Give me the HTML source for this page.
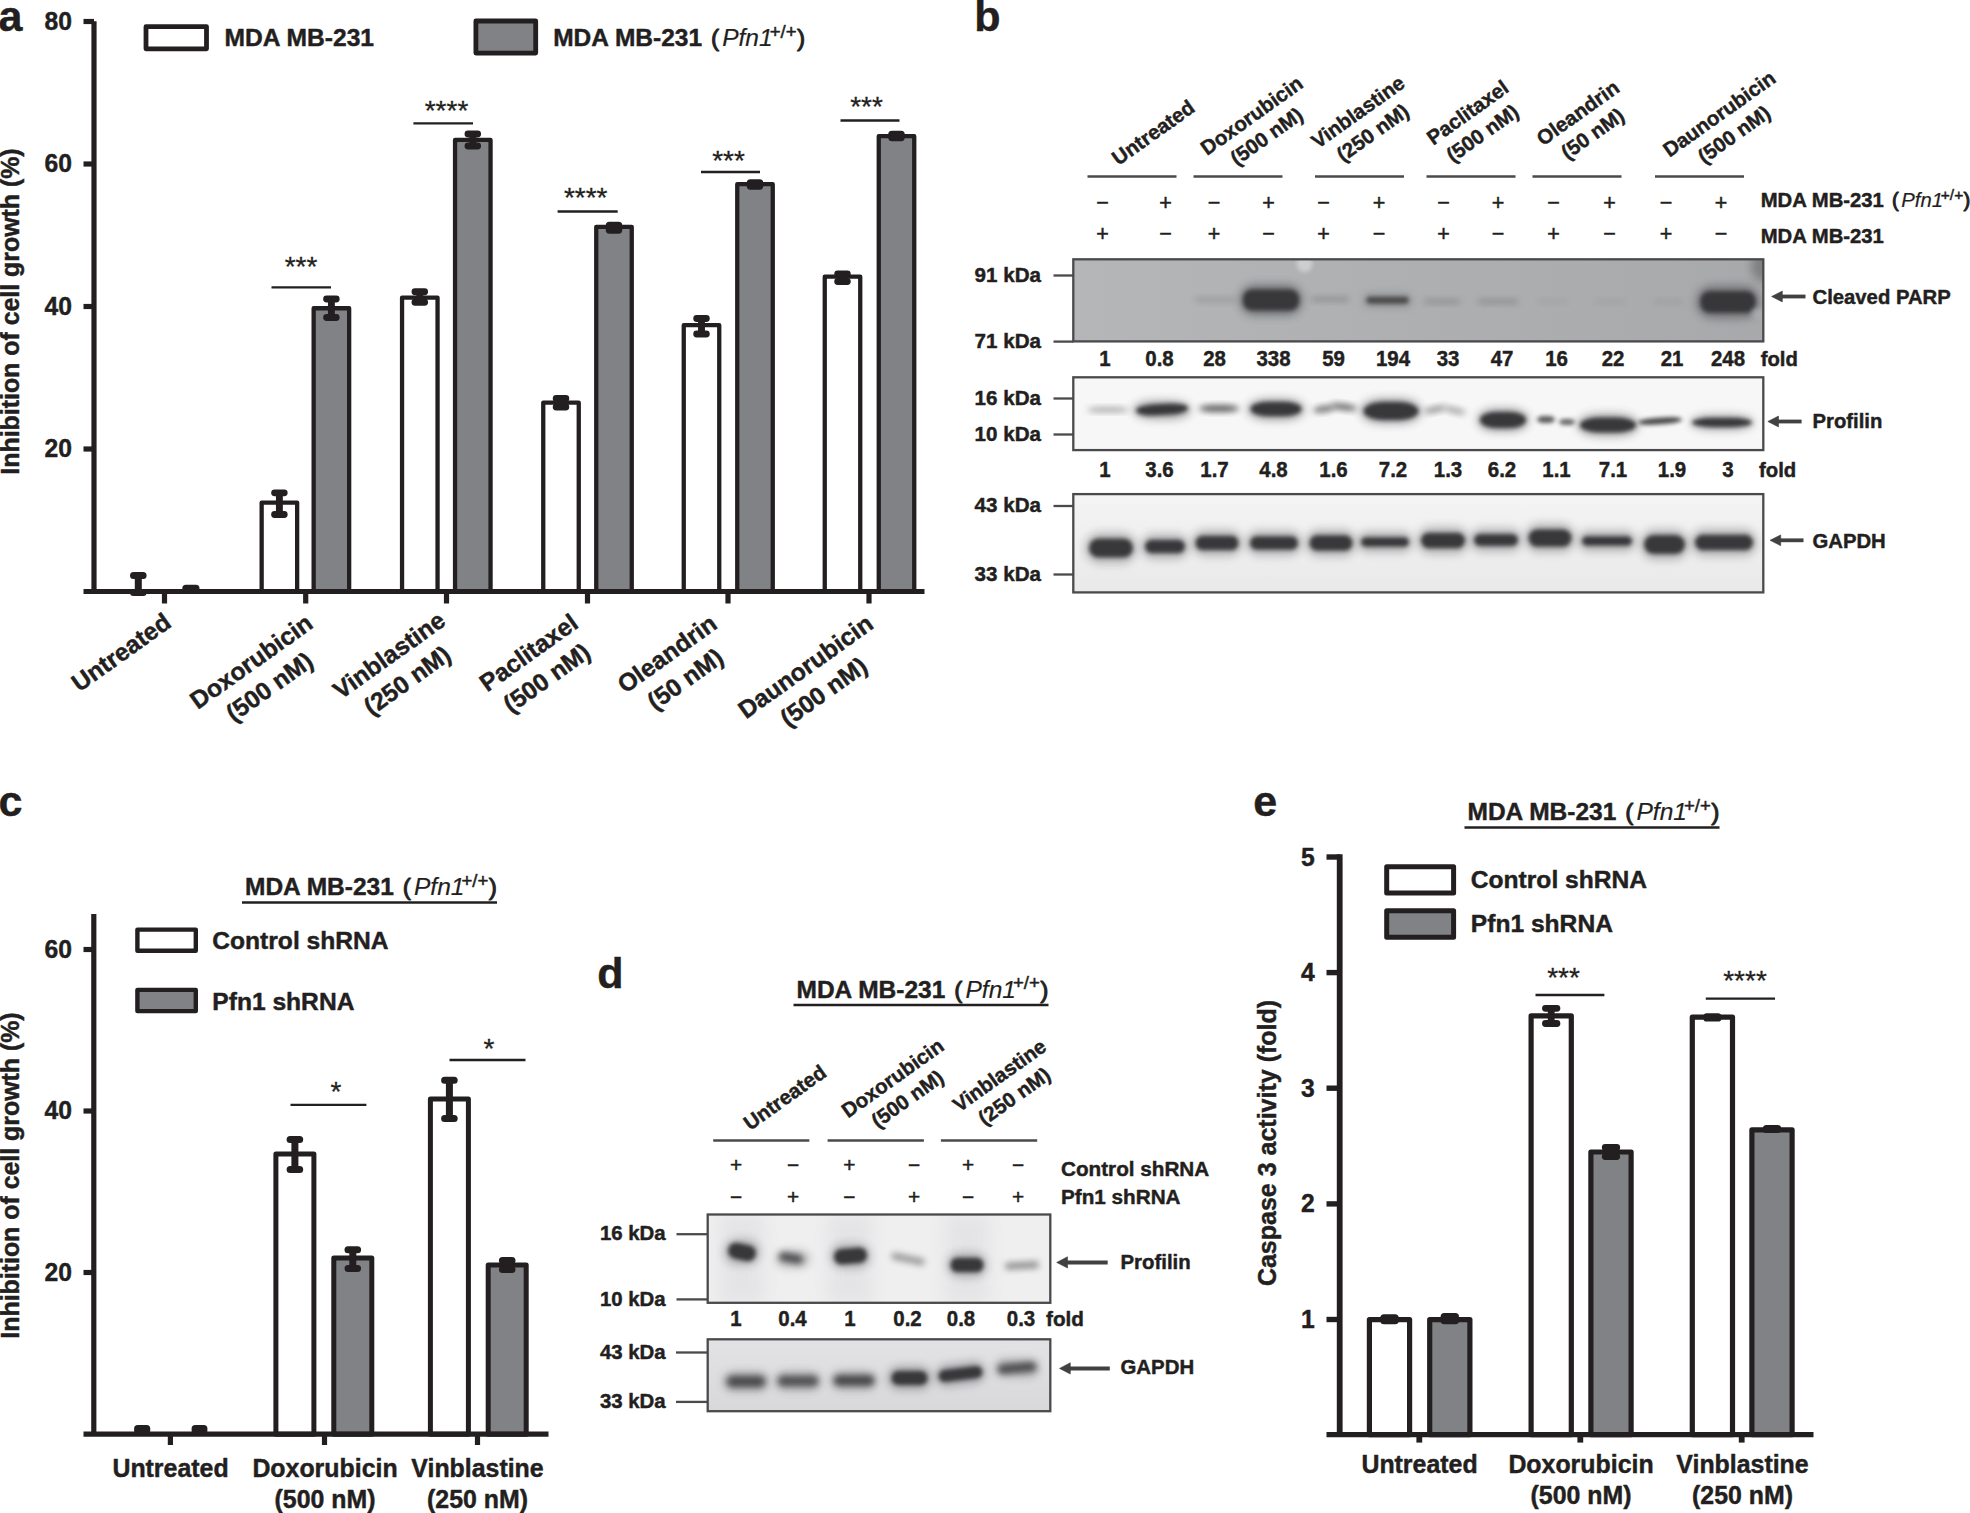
<!DOCTYPE html>
<html lang="en"><head><meta charset="utf-8"><title>Figure</title>
<style>html,body{margin:0;padding:0;background:#fff}svg{display:block}text{font-family:"Liberation Sans",Arial,Helvetica,sans-serif;fill:#231f20}.b{stroke:#231f20;stroke-width:.45px;stroke-linejoin:round}.pm{stroke:#231f20;stroke-width:.5px}</style></head><body>
<svg width="1970" height="1513" viewBox="0 0 1970 1513">
<defs>
<filter id="b2" x="-30%" y="-80%" width="160%" height="260%"><feGaussianBlur stdDeviation="2"/></filter>
<filter id="b3" x="-30%" y="-80%" width="160%" height="260%"><feGaussianBlur stdDeviation="3"/></filter>
<filter id="b4" x="-30%" y="-100%" width="160%" height="300%"><feGaussianBlur stdDeviation="4.5"/></filter>
<filter id="b8" x="-30%" y="-100%" width="160%" height="300%"><feGaussianBlur stdDeviation="8"/></filter>
<linearGradient id="bg1" x1="0" x2="1" y1="0" y2="0"><stop offset="0" stop-color="#b5b6b8"/><stop offset="0.5" stop-color="#aeafb1"/><stop offset="1" stop-color="#a8a9ab"/></linearGradient>
<linearGradient id="bg3" x1="0" x2="0" y1="0" y2="1"><stop offset="0" stop-color="#f4f4f4"/><stop offset="1" stop-color="#e9e9ea"/></linearGradient>
<linearGradient id="bg5" x1="0" x2="0" y1="0" y2="1"><stop offset="0" stop-color="#e3e3e5"/><stop offset="1" stop-color="#d8d8da"/></linearGradient>
</defs>
<text x="-1.4" y="30.7" font-size="43" text-anchor="start" font-weight="bold" class="b" stroke-width="0.2">a</text>
<text x="974.2" y="31" font-size="43" text-anchor="start" font-weight="bold" class="b" stroke-width="0.2">b</text>
<text x="-1.6" y="816.4" font-size="43" text-anchor="start" font-weight="bold" class="b" stroke-width="0.2">c</text>
<text x="597.3" y="987.5" font-size="43" text-anchor="start" font-weight="bold" class="b" stroke-width="0.2">d</text>
<text x="1253.3" y="816.4" font-size="43" text-anchor="start" font-weight="bold" class="b" stroke-width="0.2">e</text>
<g id="panelA">
<rect x="146" y="26.7" width="60.5" height="22.1" fill="#fff" stroke="#231f20" stroke-width="4.8" stroke-linejoin="round"/>
<text x="224.6" y="46.3" font-size="24.6" text-anchor="start" font-weight="bold" class="b" >MDA MB-231</text>
<rect x="475.9" y="21" width="59.8" height="32.1" fill="#808285" stroke="#231f20" stroke-width="4.8" stroke-linejoin="round"/>
<text y="46.3" font-size="24.5" font-weight="bold" class="b"><tspan x="553.2">MDA MB-231</tspan><tspan x="711.0" font-weight="normal" stroke-width="1">(</tspan><tspan x="722.2" font-style="italic" font-weight="normal" stroke-width="0.2">Pfn1</tspan><tspan x="769.7" dy="-8.2" font-size="18.6" font-weight="normal" stroke-width="0.5">+/+</tspan><tspan x="797.0" dy="8.2" font-weight="normal" stroke-width="1">)</tspan></text>
<rect x="261.65" y="502.55" width="35.50" height="88.95" fill="#fff" stroke="#231f20" stroke-width="4.3" stroke-linejoin="round"/>
<rect x="313.65" y="308.25" width="35.50" height="283.25" fill="#808285" stroke="#231f20" stroke-width="4.3" stroke-linejoin="round"/>
<rect x="402.05" y="297.65" width="35.50" height="293.85" fill="#fff" stroke="#231f20" stroke-width="4.3" stroke-linejoin="round"/>
<rect x="455.05" y="139.95" width="35.50" height="451.55" fill="#808285" stroke="#231f20" stroke-width="4.3" stroke-linejoin="round"/>
<rect x="543.25" y="402.65" width="35.50" height="188.85" fill="#fff" stroke="#231f20" stroke-width="4.3" stroke-linejoin="round"/>
<rect x="596.25" y="226.85" width="35.50" height="364.65" fill="#808285" stroke="#231f20" stroke-width="4.3" stroke-linejoin="round"/>
<rect x="683.75" y="325.15" width="35.50" height="266.35" fill="#fff" stroke="#231f20" stroke-width="4.3" stroke-linejoin="round"/>
<rect x="737.25" y="184.15" width="35.50" height="407.35" fill="#808285" stroke="#231f20" stroke-width="4.3" stroke-linejoin="round"/>
<rect x="824.75" y="276.65" width="35.50" height="314.85" fill="#fff" stroke="#231f20" stroke-width="4.3" stroke-linejoin="round"/>
<rect x="878.75" y="136.15" width="35.50" height="455.35" fill="#808285" stroke="#231f20" stroke-width="4.3" stroke-linejoin="round"/>
<path d="M274.59999999999997 492.84999999999997H284.2M274.59999999999997 514.55H284.2M279.4 492.84999999999997V514.55" fill="none" stroke="#231f20" stroke-width="6.9" stroke-linecap="round"/>
<path d="M326.59999999999997 298.95H336.2M326.59999999999997 317.55H336.2M331.4 298.95V317.55" fill="none" stroke="#231f20" stroke-width="6.9" stroke-linecap="round"/>
<path d="M415.0 291.75H424.6M415.0 302.25H424.6M419.8 291.75V302.25" fill="none" stroke="#231f20" stroke-width="6.9" stroke-linecap="round"/>
<path d="M468.0 133.95H477.6M468.0 145.95000000000002H477.6M472.8 133.95V145.95000000000002" fill="none" stroke="#231f20" stroke-width="6.9" stroke-linecap="round"/>
<path d="M556.2 398.45H565.8M556.2 407.05H565.8M561 398.45V407.05" fill="none" stroke="#231f20" stroke-width="6.9" stroke-linecap="round"/>
<rect x="605.75" y="221.8" width="16.50" height="11.90" rx="3.60" fill="#231f20"/>
<path d="M696.7 318.45H706.3M696.7 333.95H706.3M701.5 318.45V333.95" fill="none" stroke="#231f20" stroke-width="6.9" stroke-linecap="round"/>
<rect x="746.75" y="179.3" width="16.50" height="10.40" rx="3.60" fill="#231f20"/>
<path d="M837.7 273.84999999999997H847.3M837.7 281.55H847.3M842.5 273.84999999999997V281.55" fill="none" stroke="#231f20" stroke-width="6.9" stroke-linecap="round"/>
<rect x="888.25" y="130.7" width="16.50" height="10.50" rx="3.60" fill="#231f20"/>
<path d="M133.5 575.6H143.10000000000002M133.5 592.5H143.10000000000002M138.3 575.6V592.5" fill="none" stroke="#231f20" stroke-width="7" stroke-linecap="round"/>
<rect x="182.3" y="584.8" width="17.2" height="8" rx="3.6" fill="#231f20"/>
<path d="M94 591.5V21.3" stroke="#231f20" stroke-width="5.2" fill="none"/>
<path d="M83.5 591.5H924.5" stroke="#231f20" stroke-width="5.2" fill="none"/>
<line x1="83.5" y1="449.0" x2="94" y2="449.0" stroke="#231f20" stroke-width="5.2"/>
<text transform="translate(72 457.3) scale(0.95 1)" font-size="26" text-anchor="end" font-weight="bold" class="b">20</text>
<line x1="83.5" y1="306.5" x2="94" y2="306.5" stroke="#231f20" stroke-width="5.2"/>
<text transform="translate(72 314.8) scale(0.95 1)" font-size="26" text-anchor="end" font-weight="bold" class="b">40</text>
<line x1="83.5" y1="164.0" x2="94" y2="164.0" stroke="#231f20" stroke-width="5.2"/>
<text transform="translate(72 172.3) scale(0.95 1)" font-size="26" text-anchor="end" font-weight="bold" class="b">60</text>
<line x1="83.5" y1="21.5" x2="94" y2="21.5" stroke="#231f20" stroke-width="5.2"/>
<text transform="translate(72 29.8) scale(0.95 1)" font-size="26" text-anchor="end" font-weight="bold" class="b">80</text>
<line x1="164.5" y1="591.5" x2="164.5" y2="603.5" stroke="#231f20" stroke-width="5.2"/>
<line x1="305.7" y1="591.5" x2="305.7" y2="603.5" stroke="#231f20" stroke-width="5.2"/>
<line x1="446.5" y1="591.5" x2="446.5" y2="603.5" stroke="#231f20" stroke-width="5.2"/>
<line x1="587.5" y1="591.5" x2="587.5" y2="603.5" stroke="#231f20" stroke-width="5.2"/>
<line x1="728" y1="591.5" x2="728" y2="603.5" stroke="#231f20" stroke-width="5.2"/>
<line x1="869" y1="591.5" x2="869" y2="603.5" stroke="#231f20" stroke-width="5.2"/>
<line x1="271.5" y1="287.3" x2="331" y2="287.3" stroke="#231f20" stroke-width="2.3"/>
<text x="301" y="275.8" font-size="28" text-anchor="middle" font-weight="normal" stroke="#231f20" stroke-width="0.3">***</text>
<line x1="413.4" y1="123.3" x2="473" y2="123.3" stroke="#231f20" stroke-width="2.3"/>
<text x="446.5" y="120.1" font-size="28" text-anchor="middle" font-weight="normal" stroke="#231f20" stroke-width="0.3">****</text>
<line x1="557.6" y1="211.5" x2="617.7" y2="211.5" stroke="#231f20" stroke-width="2.3"/>
<text x="585.7" y="206.6" font-size="28" text-anchor="middle" font-weight="normal" stroke="#231f20" stroke-width="0.3">****</text>
<line x1="701" y1="172" x2="760" y2="172" stroke="#231f20" stroke-width="2.3"/>
<text x="728.5" y="170.3" font-size="28" text-anchor="middle" font-weight="normal" stroke="#231f20" stroke-width="0.3">***</text>
<line x1="840.5" y1="120.5" x2="899.5" y2="120.5" stroke="#231f20" stroke-width="2.3"/>
<text x="866.5" y="115.8" font-size="28" text-anchor="middle" font-weight="normal" stroke="#231f20" stroke-width="0.3">***</text>
<text transform="translate(18.8 311.5) rotate(-90)" font-size="24.9" text-anchor="middle" font-weight="bold" class="b">Inhibition of cell growth (%)</text>
<g transform="translate(126 659.2) rotate(-35.5)">
<text x="0" y="0" font-size="24.6" text-anchor="middle" font-weight="bold" class="b">Untreated</text>
</g>
<g transform="translate(256.2 668.4) rotate(-35.5)">
<text x="0" y="0" font-size="24.6" text-anchor="middle" font-weight="bold" class="b">Doxorubicin</text>
<text x="0" y="31.2" font-size="24.6" text-anchor="middle" font-weight="bold" class="b">(500 nM)</text>
</g>
<g transform="translate(394 662) rotate(-35.5)">
<text x="0" y="0" font-size="24.6" text-anchor="middle" font-weight="bold" class="b">Vinblastine</text>
<text x="0" y="31.2" font-size="24.6" text-anchor="middle" font-weight="bold" class="b">(250 nM)</text>
</g>
<g transform="translate(533.5 659.5) rotate(-35.5)">
<text x="0" y="0" font-size="24.6" text-anchor="middle" font-weight="bold" class="b">Paclitaxel</text>
<text x="0" y="31.2" font-size="24.6" text-anchor="middle" font-weight="bold" class="b">(500 nM)</text>
</g>
<g transform="translate(672 660.7) rotate(-35.5)">
<text x="0" y="0" font-size="24.6" text-anchor="middle" font-weight="bold" class="b">Oleandrin</text>
<text x="0" y="31.2" font-size="24.6" text-anchor="middle" font-weight="bold" class="b">(50 nM)</text>
</g>
<g transform="translate(810.4 673.4) rotate(-35.5)">
<text x="0" y="0" font-size="24.6" text-anchor="middle" font-weight="bold" class="b">Daunorubicin</text>
<text x="0" y="31.2" font-size="24.6" text-anchor="middle" font-weight="bold" class="b">(500 nM)</text>
</g>
</g>
<g id="panelB">
<line x1="1087.5" y1="176.5" x2="1176.5" y2="176.5" stroke="#4a4a4c" stroke-width="2.4"/>
<line x1="1193.5" y1="176.5" x2="1282.5" y2="176.5" stroke="#4a4a4c" stroke-width="2.4"/>
<line x1="1315" y1="176.5" x2="1404" y2="176.5" stroke="#4a4a4c" stroke-width="2.4"/>
<line x1="1426.5" y1="176.5" x2="1515.5" y2="176.5" stroke="#4a4a4c" stroke-width="2.4"/>
<line x1="1532.5" y1="176.5" x2="1621.5" y2="176.5" stroke="#4a4a4c" stroke-width="2.4"/>
<line x1="1655" y1="176.5" x2="1744" y2="176.5" stroke="#4a4a4c" stroke-width="2.4"/>
<text x="1102.5" y="209.8" font-size="21.5" text-anchor="middle" font-weight="normal" class="pm">−</text>
<text x="1102.5" y="240.9" font-size="21.5" text-anchor="middle" font-weight="normal" class="pm">+</text>
<text x="1165.5" y="209.8" font-size="21.5" text-anchor="middle" font-weight="normal" class="pm">+</text>
<text x="1165.5" y="240.9" font-size="21.5" text-anchor="middle" font-weight="normal" class="pm">−</text>
<text x="1214" y="209.8" font-size="21.5" text-anchor="middle" font-weight="normal" class="pm">−</text>
<text x="1214" y="240.9" font-size="21.5" text-anchor="middle" font-weight="normal" class="pm">+</text>
<text x="1268.5" y="209.8" font-size="21.5" text-anchor="middle" font-weight="normal" class="pm">+</text>
<text x="1268.5" y="240.9" font-size="21.5" text-anchor="middle" font-weight="normal" class="pm">−</text>
<text x="1323.5" y="209.8" font-size="21.5" text-anchor="middle" font-weight="normal" class="pm">−</text>
<text x="1323.5" y="240.9" font-size="21.5" text-anchor="middle" font-weight="normal" class="pm">+</text>
<text x="1379" y="209.8" font-size="21.5" text-anchor="middle" font-weight="normal" class="pm">+</text>
<text x="1379" y="240.9" font-size="21.5" text-anchor="middle" font-weight="normal" class="pm">−</text>
<text x="1443.5" y="209.8" font-size="21.5" text-anchor="middle" font-weight="normal" class="pm">−</text>
<text x="1443.5" y="240.9" font-size="21.5" text-anchor="middle" font-weight="normal" class="pm">+</text>
<text x="1498" y="209.8" font-size="21.5" text-anchor="middle" font-weight="normal" class="pm">+</text>
<text x="1498" y="240.9" font-size="21.5" text-anchor="middle" font-weight="normal" class="pm">−</text>
<text x="1553.5" y="209.8" font-size="21.5" text-anchor="middle" font-weight="normal" class="pm">−</text>
<text x="1553.5" y="240.9" font-size="21.5" text-anchor="middle" font-weight="normal" class="pm">+</text>
<text x="1609.5" y="209.8" font-size="21.5" text-anchor="middle" font-weight="normal" class="pm">+</text>
<text x="1609.5" y="240.9" font-size="21.5" text-anchor="middle" font-weight="normal" class="pm">−</text>
<text x="1666" y="209.8" font-size="21.5" text-anchor="middle" font-weight="normal" class="pm">−</text>
<text x="1666" y="240.9" font-size="21.5" text-anchor="middle" font-weight="normal" class="pm">+</text>
<text x="1721" y="209.8" font-size="21.5" text-anchor="middle" font-weight="normal" class="pm">+</text>
<text x="1721" y="240.9" font-size="21.5" text-anchor="middle" font-weight="normal" class="pm">−</text>
<text y="207" font-size="20.3" font-weight="bold" class="b"><tspan x="1760.7">MDA MB-231</tspan><tspan x="1892.0" font-weight="normal" stroke-width="1">(</tspan><tspan x="1901.3" font-style="italic" font-weight="normal" stroke-width="0.2">Pfn1</tspan><tspan x="1940.8" dy="-6.8" font-size="15.5" font-weight="normal" stroke-width="0.5">+/+</tspan><tspan x="1963.5" dy="6.8" font-weight="normal" stroke-width="1">)</tspan></text>
<text x="1760.7" y="243" font-size="20.3" text-anchor="start" font-weight="bold" class="b" >MDA MB-231</text>
<clipPath id="c1"><rect x="1073.3" y="259.3" width="690" height="82.1"/></clipPath>
<g clip-path="url(#c1)">
<rect x="1073.3" y="259.3" width="690.0" height="82.09999999999997" fill="url(#bg1)"/>
<ellipse cx="1764" cy="266" rx="13" ry="16" fill="#6e6f71" opacity="0.7" filter="url(#b4)"/>
<rect x="1243.0" y="289.5" width="56" height="21" rx="9" ry="9" fill="#38383a" opacity="1" filter="url(#b2)"/>
<rect x="1239.0" y="284.0" width="64" height="32" rx="16.0" ry="16.0" fill="#38383a" opacity="0.45" filter="url(#b4)"/>
<rect x="1700.5" y="291.25" width="55" height="21.5" rx="9" ry="9" fill="#38383a" opacity="1" filter="url(#b2)"/>
<rect x="1696.0" y="285.5" width="64" height="33" rx="16.5" ry="16.5" fill="#38383a" opacity="0.45" filter="url(#b4)"/>
<ellipse cx="1757" cy="313" rx="5" ry="4" fill="#c0c1c3" opacity="0.7" filter="url(#b3)"/>
<rect x="1195.0" y="297.2" width="40" height="5" rx="2.5" ry="2.5" fill="#555" opacity="0.25" filter="url(#b3)"/>
<rect x="1311.0" y="296.8" width="38" height="5" rx="2.5" ry="2.5" fill="#555" opacity="0.35" filter="url(#b3)"/>
<rect x="1366.5" y="297.05" width="42" height="6.5" rx="3.25" ry="3.25" fill="#3f3f41" opacity="0.9" filter="url(#b2)"/>
<rect x="1363.5" y="294.3" width="48" height="12" rx="6.0" ry="6.0" fill="#3f3f41" opacity="0.3" filter="url(#b4)"/>
<rect x="1424.0" y="298.9" width="36" height="5" rx="2.5" ry="2.5" fill="#555" opacity="0.33" filter="url(#b3)"/>
<rect x="1478.0" y="298.9" width="40" height="5" rx="2.5" ry="2.5" fill="#555" opacity="0.33" filter="url(#b3)"/>
<rect x="1538.0" y="299.4" width="30" height="4" rx="2.0" ry="2.0" fill="#555" opacity="0.12" filter="url(#b3)"/>
<rect x="1595.0" y="299.4" width="30" height="4" rx="2.0" ry="2.0" fill="#555" opacity="0.12" filter="url(#b3)"/>
<rect x="1653.0" y="299.4" width="30" height="4" rx="2.0" ry="2.0" fill="#555" opacity="0.15" filter="url(#b3)"/>
<ellipse cx="1304.5" cy="264" rx="8" ry="8" fill="#cfd0d2" opacity="0.95" filter="url(#b2)"/>
</g>
<rect x="1073.3" y="259.3" width="690.0" height="82.09999999999997" fill="none" stroke="#4a4a4c" stroke-width="2.3"/>
<clipPath id="c2"><rect x="1073.3" y="377.3" width="690" height="72.8"/></clipPath>
<g clip-path="url(#c2)">
<rect x="1073.3" y="377.3" width="690.0" height="72.80000000000001" fill="#f7f7f7"/>
<rect x="1087.0" y="407.55" width="42" height="4.5" rx="15.1" ry="2.25" fill="#444" opacity="0.5" filter="url(#b3)"/>
<rect x="1133.0" y="400.5" width="58" height="19" rx="20.9" ry="9.5" fill="#38383a" opacity="0.4" filter="url(#b4)"/>
<rect x="1136.0" y="404.0" width="52" height="11" rx="18.7" ry="5.5" fill="#38383a" opacity="1" filter="url(#b2)" transform="rotate(-3 1162 409.5)"/>
<rect x="1199.0" y="405.25" width="40" height="6.5" rx="14.4" ry="3.25" fill="#4a4a4c" opacity="0.95" filter="url(#b3)"/>
<rect x="1247.0" y="398.5" width="58" height="22" rx="20.9" ry="11.0" fill="#38383a" opacity="0.4" filter="url(#b4)"/>
<rect x="1250.5" y="401.75" width="51" height="14.5" rx="18.4" ry="7.25" fill="#38383a" opacity="1" filter="url(#b2)"/>
<rect x="1313.0" y="406.0" width="22" height="6" rx="7.9" ry="3.0" fill="#4a4a4c" opacity="0.8" filter="url(#b3)" transform="rotate(-8 1324 409)"/>
<rect x="1331.0" y="404.0" width="26" height="6" rx="9.4" ry="3.0" fill="#4a4a4c" opacity="0.85" filter="url(#b3)" transform="rotate(8 1344 407)"/>
<rect x="1360.0" y="398.0" width="62" height="26" rx="22.3" ry="13.0" fill="#38383a" opacity="0.4" filter="url(#b4)"/>
<rect x="1363.5" y="402.0" width="55" height="18" rx="19.8" ry="9.0" fill="#38383a" opacity="1" filter="url(#b2)"/>
<rect x="1424.0" y="406.75" width="22" height="5.5" rx="7.9" ry="2.75" fill="#4a4a4c" opacity="0.6" filter="url(#b3)" transform="rotate(-12 1435 409.5)"/>
<rect x="1444.0" y="407.75" width="22" height="5.5" rx="7.9" ry="2.75" fill="#4a4a4c" opacity="0.5" filter="url(#b3)" transform="rotate(14 1455 410.5)"/>
<rect x="1477.0" y="408.0" width="52" height="24" rx="18.7" ry="12.0" fill="#38383a" opacity="0.4" filter="url(#b4)"/>
<rect x="1480.0" y="412.0" width="46" height="16" rx="16.6" ry="8.0" fill="#38383a" opacity="1" filter="url(#b2)"/>
<rect x="1537.0" y="416.0" width="18" height="7" rx="6.5" ry="3.5" fill="#3f3f41" opacity="0.85" filter="url(#b2)"/>
<rect x="1559.0" y="419.0" width="16" height="6" rx="5.8" ry="3.0" fill="#3f3f41" opacity="0.8" filter="url(#b2)"/>
<rect x="1577.0" y="413.5" width="62" height="23" rx="22.3" ry="11.5" fill="#38383a" opacity="0.4" filter="url(#b4)"/>
<rect x="1580.0" y="417.5" width="56" height="15" rx="20.2" ry="7.5" fill="#38383a" opacity="1" filter="url(#b2)"/>
<rect x="1638.0" y="417.75" width="44" height="6.5" rx="15.8" ry="3.25" fill="#3a3a3c" opacity="0.95" filter="url(#b2)" transform="rotate(-4 1660 421)"/>
<rect x="1690.0" y="414.5" width="64" height="16" rx="23.0" ry="8.0" fill="#38383a" opacity="0.35" filter="url(#b4)"/>
<rect x="1692.0" y="417.75" width="60" height="9.5" rx="21.6" ry="4.75" fill="#38383a" opacity="1" filter="url(#b2)"/>
</g>
<rect x="1073.3" y="377.3" width="690.0" height="72.80000000000001" fill="none" stroke="#4a4a4c" stroke-width="2.3"/>
<clipPath id="c3"><rect x="1073.3" y="494.1" width="690" height="98.3"/></clipPath>
<g clip-path="url(#c3)">
<rect x="1073.3" y="494.1" width="690.0" height="98.29999999999995" fill="url(#bg3)"/>
<rect x="1085.0" y="532.5" width="52" height="31" rx="15.5" ry="15.5" fill="#38383a" opacity="0.3" filter="url(#b4)"/>
<rect x="1089.0" y="538.5" width="44" height="19" rx="9.5" ry="9.5" fill="#38383a" opacity="1" filter="url(#b2)"/>
<rect x="1141.0" y="533.75" width="48" height="25.5" rx="12.75" ry="12.75" fill="#38383a" opacity="0.3" filter="url(#b4)"/>
<rect x="1145.0" y="539.75" width="40" height="13.5" rx="6.75" ry="6.75" fill="#38383a" opacity="1" filter="url(#b2)"/>
<rect x="1191.5" y="529.75" width="51" height="26.5" rx="13.25" ry="13.25" fill="#38383a" opacity="0.3" filter="url(#b4)"/>
<rect x="1195.5" y="535.75" width="43" height="14.5" rx="7.25" ry="7.25" fill="#38383a" opacity="1" filter="url(#b2)"/>
<rect x="1246.0" y="530.25" width="56" height="25.5" rx="12.75" ry="12.75" fill="#38383a" opacity="0.3" filter="url(#b4)"/>
<rect x="1250.0" y="536.25" width="48" height="13.5" rx="6.75" ry="6.75" fill="#38383a" opacity="1" filter="url(#b2)"/>
<rect x="1305.5" y="529.25" width="51" height="27.5" rx="13.75" ry="13.75" fill="#38383a" opacity="0.3" filter="url(#b4)"/>
<rect x="1309.5" y="535.25" width="43" height="15.5" rx="7.75" ry="7.75" fill="#38383a" opacity="1" filter="url(#b2)"/>
<rect x="1357.0" y="531.25" width="56" height="21.5" rx="10.75" ry="10.75" fill="#38383a" opacity="0.3" filter="url(#b4)"/>
<rect x="1361.0" y="537.25" width="48" height="9.5" rx="4.75" ry="4.75" fill="#38383a" opacity="1" filter="url(#b2)"/>
<rect x="1417.0" y="526.75" width="52" height="27.5" rx="13.75" ry="13.75" fill="#38383a" opacity="0.3" filter="url(#b4)"/>
<rect x="1421.0" y="532.75" width="44" height="15.5" rx="7.75" ry="7.75" fill="#38383a" opacity="1" filter="url(#b2)"/>
<rect x="1470.0" y="528.0" width="52" height="24" rx="12.0" ry="12.0" fill="#38383a" opacity="0.3" filter="url(#b4)"/>
<rect x="1474.0" y="534.0" width="44" height="12" rx="6.0" ry="6.0" fill="#38383a" opacity="1" filter="url(#b2)"/>
<rect x="1524.5" y="523.25" width="51" height="29.5" rx="14.75" ry="14.75" fill="#38383a" opacity="0.3" filter="url(#b4)"/>
<rect x="1528.5" y="529.25" width="43" height="17.5" rx="8.75" ry="8.75" fill="#38383a" opacity="1" filter="url(#b2)"/>
<rect x="1578.0" y="530.25" width="58" height="21.5" rx="10.75" ry="10.75" fill="#38383a" opacity="0.3" filter="url(#b4)"/>
<rect x="1582.0" y="536.25" width="50" height="9.5" rx="4.75" ry="4.75" fill="#38383a" opacity="1" filter="url(#b2)"/>
<rect x="1640.0" y="529.0" width="49" height="31" rx="15.5" ry="15.5" fill="#38383a" opacity="0.3" filter="url(#b4)"/>
<rect x="1644.0" y="535.0" width="41" height="19" rx="9.5" ry="9.5" fill="#38383a" opacity="1" filter="url(#b2)"/>
<rect x="1691.0" y="528.75" width="66" height="27.5" rx="13.75" ry="13.75" fill="#38383a" opacity="0.3" filter="url(#b4)"/>
<rect x="1695.0" y="534.75" width="58" height="15.5" rx="7.75" ry="7.75" fill="#38383a" opacity="1" filter="url(#b2)"/>
</g>
<rect x="1073.3" y="494.1" width="690.0" height="98.29999999999995" fill="none" stroke="#4a4a4c" stroke-width="2.3"/>
<text x="1041" y="281.7" font-size="20.604499999999998" text-anchor="end" font-weight="bold" class="b" >91 kDa</text>
<line x1="1053.5" y1="275.5" x2="1073.3" y2="275.5" stroke="#4a4a4c" stroke-width="2.3"/>
<text x="1041" y="347.8" font-size="20.604499999999998" text-anchor="end" font-weight="bold" class="b" >71 kDa</text>
<line x1="1053.5" y1="341.6" x2="1073.3" y2="341.6" stroke="#4a4a4c" stroke-width="2.3"/>
<text x="1041" y="404.7" font-size="20.604499999999998" text-anchor="end" font-weight="bold" class="b" >16 kDa</text>
<line x1="1053.5" y1="398.5" x2="1073.3" y2="398.5" stroke="#4a4a4c" stroke-width="2.3"/>
<text x="1041" y="440.7" font-size="20.604499999999998" text-anchor="end" font-weight="bold" class="b" >10 kDa</text>
<line x1="1053.5" y1="434.5" x2="1073.3" y2="434.5" stroke="#4a4a4c" stroke-width="2.3"/>
<text x="1041" y="512.2" font-size="20.604499999999998" text-anchor="end" font-weight="bold" class="b" >43 kDa</text>
<line x1="1053.5" y1="506" x2="1073.3" y2="506" stroke="#4a4a4c" stroke-width="2.3"/>
<text x="1041" y="580.7" font-size="20.604499999999998" text-anchor="end" font-weight="bold" class="b" >33 kDa</text>
<line x1="1053.5" y1="574.5" x2="1073.3" y2="574.5" stroke="#4a4a4c" stroke-width="2.3"/>
<text transform="translate(1105 365.7) scale(0.96 1)" font-size="21.3" text-anchor="middle" font-weight="bold" class="b">1</text>
<text transform="translate(1159.5 365.7) scale(0.96 1)" font-size="21.3" text-anchor="middle" font-weight="bold" class="b">0.8</text>
<text transform="translate(1214.5 365.7) scale(0.96 1)" font-size="21.3" text-anchor="middle" font-weight="bold" class="b">28</text>
<text transform="translate(1273.5 365.7) scale(0.96 1)" font-size="21.3" text-anchor="middle" font-weight="bold" class="b">338</text>
<text transform="translate(1333.5 365.7) scale(0.96 1)" font-size="21.3" text-anchor="middle" font-weight="bold" class="b">59</text>
<text transform="translate(1393 365.7) scale(0.96 1)" font-size="21.3" text-anchor="middle" font-weight="bold" class="b">194</text>
<text transform="translate(1448 365.7) scale(0.96 1)" font-size="21.3" text-anchor="middle" font-weight="bold" class="b">33</text>
<text transform="translate(1502 365.7) scale(0.96 1)" font-size="21.3" text-anchor="middle" font-weight="bold" class="b">47</text>
<text transform="translate(1556.5 365.7) scale(0.96 1)" font-size="21.3" text-anchor="middle" font-weight="bold" class="b">16</text>
<text transform="translate(1613 365.7) scale(0.96 1)" font-size="21.3" text-anchor="middle" font-weight="bold" class="b">22</text>
<text transform="translate(1672 365.7) scale(0.96 1)" font-size="21.3" text-anchor="middle" font-weight="bold" class="b">21</text>
<text transform="translate(1728 365.7) scale(0.96 1)" font-size="21.3" text-anchor="middle" font-weight="bold" class="b">248</text>
<text x="1760.7" y="365.5" font-size="20.3" text-anchor="start" font-weight="bold" class="b" >fold</text>
<text transform="translate(1105 476.7) scale(0.96 1)" font-size="21.3" text-anchor="middle" font-weight="bold" class="b">1</text>
<text transform="translate(1159.5 476.7) scale(0.96 1)" font-size="21.3" text-anchor="middle" font-weight="bold" class="b">3.6</text>
<text transform="translate(1214.5 476.7) scale(0.96 1)" font-size="21.3" text-anchor="middle" font-weight="bold" class="b">1.7</text>
<text transform="translate(1273.5 476.7) scale(0.96 1)" font-size="21.3" text-anchor="middle" font-weight="bold" class="b">4.8</text>
<text transform="translate(1333.5 476.7) scale(0.96 1)" font-size="21.3" text-anchor="middle" font-weight="bold" class="b">1.6</text>
<text transform="translate(1393 476.7) scale(0.96 1)" font-size="21.3" text-anchor="middle" font-weight="bold" class="b">7.2</text>
<text transform="translate(1448 476.7) scale(0.96 1)" font-size="21.3" text-anchor="middle" font-weight="bold" class="b">1.3</text>
<text transform="translate(1502 476.7) scale(0.96 1)" font-size="21.3" text-anchor="middle" font-weight="bold" class="b">6.2</text>
<text transform="translate(1556.5 476.7) scale(0.96 1)" font-size="21.3" text-anchor="middle" font-weight="bold" class="b">1.1</text>
<text transform="translate(1613 476.7) scale(0.96 1)" font-size="21.3" text-anchor="middle" font-weight="bold" class="b">7.1</text>
<text transform="translate(1672 476.7) scale(0.96 1)" font-size="21.3" text-anchor="middle" font-weight="bold" class="b">1.9</text>
<text transform="translate(1728 476.7) scale(0.96 1)" font-size="21.3" text-anchor="middle" font-weight="bold" class="b">3</text>
<text x="1759" y="476.5" font-size="20.3" text-anchor="start" font-weight="bold" class="b" >fold</text>
<path d="M1805.5 296.5H1781.3" stroke="#414042" stroke-width="3.8" fill="none"/>
<path d="M1771.6 296.5L1782.3 291.1V301.9Z" fill="#414042" stroke="#414042" stroke-width="0.6" stroke-linejoin="round"/>
<text x="1812.5" y="303.6" font-size="20.3" text-anchor="start" font-weight="bold" class="b" >Cleaved PARP</text>
<path d="M1801.6 421.5H1777.5" stroke="#414042" stroke-width="3.8" fill="none"/>
<path d="M1767.8 421.5L1778.5 416.1V426.9Z" fill="#414042" stroke="#414042" stroke-width="0.6" stroke-linejoin="round"/>
<text x="1812.5" y="427.8" font-size="20.3" text-anchor="start" font-weight="bold" class="b" >Profilin</text>
<path d="M1803.5 540.3H1779.7" stroke="#414042" stroke-width="3.8" fill="none"/>
<path d="M1770 540.3L1780.7 534.9V545.6999999999999Z" fill="#414042" stroke="#414042" stroke-width="0.6" stroke-linejoin="round"/>
<text x="1812.5" y="547.5" font-size="20.3" text-anchor="start" font-weight="bold" class="b" >GAPDH</text>
<g transform="translate(1157.3 138.3) rotate(-35.5)">
<text x="0" y="0" font-size="20.5" text-anchor="middle" font-weight="bold" class="b">Untreated</text>
</g>
<g transform="translate(1255.8 121.3) rotate(-35.5)">
<text x="0" y="0" font-size="20.5" text-anchor="middle" font-weight="bold" class="b">Doxorubicin</text>
<text x="0" y="25.5" font-size="20.5" text-anchor="middle" font-weight="bold" class="b">(500 nM)</text>
</g>
<g transform="translate(1362.0 117.7) rotate(-35.5)">
<text x="0" y="0" font-size="20.5" text-anchor="middle" font-weight="bold" class="b">Vinblastine</text>
<text x="0" y="25.5" font-size="20.5" text-anchor="middle" font-weight="bold" class="b">(250 nM)</text>
</g>
<g transform="translate(1471.7 118.2) rotate(-35.5)">
<text x="0" y="0" font-size="20.5" text-anchor="middle" font-weight="bold" class="b">Paclitaxel</text>
<text x="0" y="25.5" font-size="20.5" text-anchor="middle" font-weight="bold" class="b">(500 nM)</text>
</g>
<g transform="translate(1581.9 118.6) rotate(-35.5)">
<text x="0" y="0" font-size="20.5" text-anchor="middle" font-weight="bold" class="b">Oleandrin</text>
<text x="0" y="25.5" font-size="20.5" text-anchor="middle" font-weight="bold" class="b">(50 nM)</text>
</g>
<g transform="translate(1723.3 119.5) rotate(-35.5)">
<text x="0" y="0" font-size="20.5" text-anchor="middle" font-weight="bold" class="b">Daunorubicin</text>
<text x="0" y="25.5" font-size="20.5" text-anchor="middle" font-weight="bold" class="b">(500 nM)</text>
</g>
</g>
<g id="panelC">
<text y="895" font-size="24.5" font-weight="bold" class="b"><tspan x="245">MDA MB-231</tspan><tspan x="402.8" font-weight="normal" stroke-width="1">(</tspan><tspan x="414.0" font-style="italic" font-weight="normal" stroke-width="0.2">Pfn1</tspan><tspan x="461.5" dy="-8.2" font-size="18.6" font-weight="normal" stroke-width="0.5">+/+</tspan><tspan x="488.8" dy="8.2" font-weight="normal" stroke-width="1">)</tspan></text>
<line x1="242" y1="902.5" x2="497.0" y2="902.5" stroke="#231f20" stroke-width="2.4"/>
<rect x="137.4" y="929.6" width="58.4" height="21.2" fill="#fff" stroke="#231f20" stroke-width="4.4" stroke-linejoin="round"/>
<text x="212.3" y="948.5" font-size="24.6" text-anchor="start" font-weight="bold" class="b" >Control shRNA</text>
<rect x="137.4" y="989.9" width="58.4" height="21.2" fill="#808285" stroke="#231f20" stroke-width="4.4" stroke-linejoin="round"/>
<text x="212.3" y="1010" font-size="24.6" text-anchor="start" font-weight="bold" class="b" >Pfn1 shRNA</text>
<rect x="275.90" y="1154.00" width="38.00" height="280.20" fill="#fff" stroke="#231f20" stroke-width="5.0" stroke-linejoin="round"/>
<rect x="333.80" y="1257.90" width="38.00" height="176.30" fill="#808285" stroke="#231f20" stroke-width="5.0" stroke-linejoin="round"/>
<rect x="430.40" y="1099.00" width="38.00" height="335.20" fill="#fff" stroke="#231f20" stroke-width="5.0" stroke-linejoin="round"/>
<rect x="488.20" y="1265.00" width="38.00" height="169.20" fill="#808285" stroke="#231f20" stroke-width="5.0" stroke-linejoin="round"/>
<path d="M290.09999999999997 1139.5H299.7M290.09999999999997 1169.5H299.7M294.9 1139.5V1169.5" fill="none" stroke="#231f20" stroke-width="7" stroke-linecap="round"/>
<path d="M348.0 1249.8H357.6M348.0 1268.6H357.6M352.8 1249.8V1268.6" fill="none" stroke="#231f20" stroke-width="7" stroke-linecap="round"/>
<path d="M444.59999999999997 1080.2H454.2M444.59999999999997 1118.5H454.2M449.4 1080.2V1118.5" fill="none" stroke="#231f20" stroke-width="7" stroke-linecap="round"/>
<path d="M502.4 1260.4H512.0M502.4 1269.4H512.0M507.2 1260.4V1269.4" fill="none" stroke="#231f20" stroke-width="7" stroke-linecap="round"/>
<rect x="134.1" y="1425.1" width="16.1" height="9" rx="3.6" fill="#231f20"/>
<rect x="191.6" y="1425.1" width="15.8" height="9" rx="3.6" fill="#231f20"/>
<path d="M93.8 1434.2V914" stroke="#231f20" stroke-width="5.2" fill="none"/>
<path d="M83.5 1434.2H548.5" stroke="#231f20" stroke-width="5.2" fill="none"/>
<line x1="83.5" y1="1272.5" x2="93.8" y2="1272.5" stroke="#231f20" stroke-width="5.2"/>
<text transform="translate(72 1280.9) scale(0.95 1)" font-size="26" text-anchor="end" font-weight="bold" class="b">20</text>
<line x1="83.5" y1="1111" x2="93.8" y2="1111" stroke="#231f20" stroke-width="5.2"/>
<text transform="translate(72 1119.4) scale(0.95 1)" font-size="26" text-anchor="end" font-weight="bold" class="b">40</text>
<line x1="83.5" y1="949.5" x2="93.8" y2="949.5" stroke="#231f20" stroke-width="5.2"/>
<text transform="translate(72 957.9) scale(0.95 1)" font-size="26" text-anchor="end" font-weight="bold" class="b">60</text>
<line x1="170.4" y1="1434.2" x2="170.4" y2="1445" stroke="#231f20" stroke-width="5.2"/>
<line x1="324.5" y1="1434.2" x2="324.5" y2="1445" stroke="#231f20" stroke-width="5.2"/>
<line x1="477.5" y1="1434.2" x2="477.5" y2="1445" stroke="#231f20" stroke-width="5.2"/>
<line x1="290.5" y1="1104.9" x2="366.4" y2="1104.9" stroke="#231f20" stroke-width="2.3"/>
<text x="336" y="1100.5" font-size="28" text-anchor="middle" font-weight="normal" stroke="#231f20" stroke-width="0.3">*</text>
<line x1="449.5" y1="1060" x2="525.5" y2="1060" stroke="#231f20" stroke-width="2.3"/>
<text x="489" y="1057.8" font-size="28" text-anchor="middle" font-weight="normal" stroke="#231f20" stroke-width="0.3">*</text>
<text transform="translate(18.8 1175.5) rotate(-90)" font-size="24.9" text-anchor="middle" font-weight="bold" class="b">Inhibition of cell growth (%)</text>
<text x="170.5" y="1477" font-size="24.9" text-anchor="middle" font-weight="bold" class="b" >Untreated</text>
<text x="325" y="1477" font-size="24.9" text-anchor="middle" font-weight="bold" class="b" >Doxorubicin</text>
<text x="325" y="1507.5" font-size="24.9" text-anchor="middle" font-weight="bold" class="b" >(500 nM)</text>
<text x="477.5" y="1477" font-size="24.9" text-anchor="middle" font-weight="bold" class="b" >Vinblastine</text>
<text x="477.5" y="1507.5" font-size="24.9" text-anchor="middle" font-weight="bold" class="b" >(250 nM)</text>
</g>
<g id="panelD">
<text y="997.5" font-size="24.5" font-weight="bold" class="b"><tspan x="796.5">MDA MB-231</tspan><tspan x="954.3" font-weight="normal" stroke-width="1">(</tspan><tspan x="965.5" font-style="italic" font-weight="normal" stroke-width="0.2">Pfn1</tspan><tspan x="1013.0" dy="-8.2" font-size="18.6" font-weight="normal" stroke-width="0.5">+/+</tspan><tspan x="1040.3" dy="8.2" font-weight="normal" stroke-width="1">)</tspan></text>
<line x1="793.5" y1="1005.0" x2="1048.5" y2="1005.0" stroke="#231f20" stroke-width="2.4"/>
<line x1="713.2" y1="1140.6" x2="809.3" y2="1140.6" stroke="#4a4a4c" stroke-width="2.5"/>
<line x1="827.6" y1="1140.6" x2="923.9" y2="1140.6" stroke="#4a4a4c" stroke-width="2.5"/>
<line x1="940.9" y1="1140.6" x2="1037.2" y2="1140.6" stroke="#4a4a4c" stroke-width="2.5"/>
<text x="736" y="1171.7" font-size="20.8" text-anchor="middle" font-weight="normal" class="pm">+</text>
<text x="736" y="1203.8" font-size="20.8" text-anchor="middle" font-weight="normal" class="pm">−</text>
<text x="793.2" y="1171.7" font-size="20.8" text-anchor="middle" font-weight="normal" class="pm">−</text>
<text x="793.2" y="1203.8" font-size="20.8" text-anchor="middle" font-weight="normal" class="pm">+</text>
<text x="849.3" y="1171.7" font-size="20.8" text-anchor="middle" font-weight="normal" class="pm">+</text>
<text x="849.3" y="1203.8" font-size="20.8" text-anchor="middle" font-weight="normal" class="pm">−</text>
<text x="914.2" y="1171.7" font-size="20.8" text-anchor="middle" font-weight="normal" class="pm">−</text>
<text x="914.2" y="1203.8" font-size="20.8" text-anchor="middle" font-weight="normal" class="pm">+</text>
<text x="968.1" y="1171.7" font-size="20.8" text-anchor="middle" font-weight="normal" class="pm">+</text>
<text x="968.1" y="1203.8" font-size="20.8" text-anchor="middle" font-weight="normal" class="pm">−</text>
<text x="1018" y="1171.7" font-size="20.8" text-anchor="middle" font-weight="normal" class="pm">−</text>
<text x="1018" y="1203.8" font-size="20.8" text-anchor="middle" font-weight="normal" class="pm">+</text>
<text x="1061" y="1176.2" font-size="20.7" text-anchor="start" font-weight="bold" class="b" >Control shRNA</text>
<text x="1061" y="1203.5" font-size="20.7" text-anchor="start" font-weight="bold" class="b" >Pfn1 shRNA</text>
<clipPath id="c4"><rect x="707.7" y="1214.5" width="342.6" height="88.3"/></clipPath>
<g clip-path="url(#c4)">
<rect x="707.7" y="1214.5" width="342.5999999999999" height="88.29999999999995" fill="#efeff0"/>
<rect x="720" y="1214" width="44" height="90" fill="#d8d8da" opacity="0.45" filter="url(#b8)"/>
<rect x="828" y="1214" width="44" height="90" fill="#d8d8da" opacity="0.45" filter="url(#b8)"/>
<rect x="945" y="1214" width="44" height="90" fill="#d8d8da" opacity="0.45" filter="url(#b8)"/>
<rect x="728.0" y="1244.0" width="28" height="16" rx="8" ry="8" fill="#38383a" opacity="1" filter="url(#b2)" transform="rotate(12 742 1252)"/>
<rect x="724.0" y="1239.0" width="36" height="26" rx="13.0" ry="13.0" fill="#38383a" opacity="0.3" filter="url(#b4)"/>
<rect x="779.0" y="1253.5" width="24" height="9" rx="4.5" ry="4.5" fill="#3a3a3c" opacity="0.85" filter="url(#b3)" transform="rotate(10 791 1258)"/>
<rect x="776.0" y="1250.0" width="34" height="18" rx="9.0" ry="9.0" fill="#38383a" opacity="0.25" filter="url(#b4)"/>
<rect x="834.0" y="1248.25" width="33" height="15.5" rx="7.5" ry="7.5" fill="#38383a" opacity="1" filter="url(#b2)" transform="rotate(-5 850.5 1256)"/>
<rect x="830.5" y="1243.5" width="40" height="25" rx="12.5" ry="12.5" fill="#38383a" opacity="0.3" filter="url(#b4)"/>
<rect x="891.0" y="1255.5" width="34" height="7" rx="3.5" ry="3.5" fill="#444" opacity="0.5" filter="url(#b3)" transform="rotate(12 908 1259)"/>
<rect x="950.5" y="1257.75" width="33" height="14.5" rx="7" ry="7" fill="#38383a" opacity="1" filter="url(#b2)"/>
<rect x="947.0" y="1252.5" width="40" height="25" rx="12.5" ry="12.5" fill="#38383a" opacity="0.3" filter="url(#b4)"/>
<rect x="1005.0" y="1262.0" width="34" height="7" rx="3.5" ry="3.5" fill="#444" opacity="0.55" filter="url(#b3)" transform="rotate(-3 1022 1265.5)"/>
</g>
<rect x="707.7" y="1214.5" width="342.5999999999999" height="88.29999999999995" fill="none" stroke="#4a4a4c" stroke-width="2.3"/>
<clipPath id="c5"><rect x="707.7" y="1339.3" width="342.6" height="71.9"/></clipPath>
<g clip-path="url(#c5)">
<rect x="707.7" y="1339.3" width="342.5999999999999" height="71.90000000000009" fill="url(#bg5)"/>
<rect x="727.0" y="1376.0" width="38" height="11" rx="5.5" ry="5.5" fill="#3a3a3c" opacity="0.85" filter="url(#b3)"/>
<rect x="723.0" y="1371.5" width="46" height="20" rx="10.0" ry="10.0" fill="#38383a" opacity="0.3" filter="url(#b4)"/>
<rect x="778.0" y="1376.0" width="40" height="10" rx="5.0" ry="5.0" fill="#3a3a3c" opacity="0.8" filter="url(#b3)"/>
<rect x="775.0" y="1371.5" width="46" height="19" rx="9.5" ry="9.5" fill="#38383a" opacity="0.3" filter="url(#b4)"/>
<rect x="834.0" y="1375.5" width="40" height="10" rx="5.0" ry="5.0" fill="#3a3a3c" opacity="0.9" filter="url(#b3)"/>
<rect x="831.0" y="1371.0" width="46" height="19" rx="9.5" ry="9.5" fill="#38383a" opacity="0.3" filter="url(#b4)"/>
<rect x="891.5" y="1371.0" width="36" height="14" rx="7.0" ry="7.0" fill="#38383a" opacity="1" filter="url(#b2)"/>
<rect x="887.5" y="1366.0" width="44" height="24" rx="12.0" ry="12.0" fill="#38383a" opacity="0.35" filter="url(#b4)"/>
<rect x="938.5" y="1368.0" width="44" height="12" rx="6.0" ry="6.0" fill="#38383a" opacity="1" filter="url(#b2)" transform="rotate(-7 960.5 1374)"/>
<rect x="935.5" y="1363.0" width="50" height="22" rx="11.0" ry="11.0" fill="#38383a" opacity="0.35" filter="url(#b4)" transform="rotate(-7 960.5 1374)"/>
<rect x="998.0" y="1363.5" width="38" height="9" rx="4.5" ry="4.5" fill="#3a3a3c" opacity="0.85" filter="url(#b3)" transform="rotate(-5 1017 1368)"/>
<rect x="995.0" y="1359.0" width="44" height="18" rx="9.0" ry="9.0" fill="#38383a" opacity="0.3" filter="url(#b4)"/>
</g>
<rect x="707.7" y="1339.3" width="342.5999999999999" height="71.90000000000009" fill="none" stroke="#4a4a4c" stroke-width="2.3"/>
<text x="665.7" y="1240.4" font-size="20.4015" text-anchor="end" font-weight="bold" class="b" >16 kDa</text>
<line x1="676.5" y1="1234.2" x2="707.7" y2="1234.2" stroke="#4a4a4c" stroke-width="2.3"/>
<text x="665.7" y="1305.6000000000001" font-size="20.4015" text-anchor="end" font-weight="bold" class="b" >10 kDa</text>
<line x1="676.5" y1="1299.4" x2="707.7" y2="1299.4" stroke="#4a4a4c" stroke-width="2.3"/>
<text x="665.7" y="1358.7" font-size="20.4015" text-anchor="end" font-weight="bold" class="b" >43 kDa</text>
<line x1="676" y1="1352.5" x2="707.7" y2="1352.5" stroke="#4a4a4c" stroke-width="2.3"/>
<text x="665.7" y="1408.1000000000001" font-size="20.4015" text-anchor="end" font-weight="bold" class="b" >33 kDa</text>
<line x1="676" y1="1401.9" x2="707.7" y2="1401.9" stroke="#4a4a4c" stroke-width="2.3"/>
<text transform="translate(736 1326.2) scale(0.96 1)" font-size="21.3" text-anchor="middle" font-weight="bold" class="b">1</text>
<text transform="translate(792.5 1326.2) scale(0.96 1)" font-size="21.3" text-anchor="middle" font-weight="bold" class="b">0.4</text>
<text transform="translate(850 1326.2) scale(0.96 1)" font-size="21.3" text-anchor="middle" font-weight="bold" class="b">1</text>
<text transform="translate(907.5 1326.2) scale(0.96 1)" font-size="21.3" text-anchor="middle" font-weight="bold" class="b">0.2</text>
<text transform="translate(961 1326.2) scale(0.96 1)" font-size="21.3" text-anchor="middle" font-weight="bold" class="b">0.8</text>
<text transform="translate(1021 1326.2) scale(0.96 1)" font-size="21.3" text-anchor="middle" font-weight="bold" class="b">0.3</text>
<text x="1046" y="1326" font-size="20.7" text-anchor="start" font-weight="bold" class="b" >fold</text>
<path d="M1107.7 1262.4H1066.5" stroke="#414042" stroke-width="4.0" fill="none"/>
<path d="M1056.7 1262.4L1067.5 1256.8000000000002V1268.0Z" fill="#414042" stroke="#414042" stroke-width="0.6" stroke-linejoin="round"/>
<text x="1120.5" y="1268.5" font-size="20.4" text-anchor="start" font-weight="bold" class="b" >Profilin</text>
<path d="M1109.8 1368.4H1069.3" stroke="#414042" stroke-width="4.0" fill="none"/>
<path d="M1059.5 1368.4L1070.3 1362.8000000000002V1374.0Z" fill="#414042" stroke="#414042" stroke-width="0.6" stroke-linejoin="round"/>
<text x="1120.5" y="1373.6" font-size="20.4" text-anchor="start" font-weight="bold" class="b" >GAPDH</text>
<g transform="translate(788.9 1103.2) rotate(-35.5)">
<text x="0" y="0" font-size="20.5" text-anchor="middle" font-weight="bold" class="b">Untreated</text>
</g>
<g transform="translate(896.7 1083.8) rotate(-35.5)">
<text x="0" y="0" font-size="20.5" text-anchor="middle" font-weight="bold" class="b">Doxorubicin</text>
<text x="0" y="25.5" font-size="20.5" text-anchor="middle" font-weight="bold" class="b">(500 nM)</text>
</g>
<g transform="translate(1003.5 1081.2) rotate(-35.5)">
<text x="0" y="0" font-size="20.5" text-anchor="middle" font-weight="bold" class="b">Vinblastine</text>
<text x="0" y="25.5" font-size="20.5" text-anchor="middle" font-weight="bold" class="b">(250 nM)</text>
</g>
</g>
<g id="panelE">
<text y="820" font-size="24.5" font-weight="bold" class="b"><tspan x="1467.5">MDA MB-231</tspan><tspan x="1625.3" font-weight="normal" stroke-width="1">(</tspan><tspan x="1636.5" font-style="italic" font-weight="normal" stroke-width="0.2">Pfn1</tspan><tspan x="1684.0" dy="-8.2" font-size="18.6" font-weight="normal" stroke-width="0.5">+/+</tspan><tspan x="1711.3" dy="8.2" font-weight="normal" stroke-width="1">)</tspan></text>
<line x1="1464.5" y1="827.5" x2="1719.5" y2="827.5" stroke="#231f20" stroke-width="2.4"/>
<rect x="1386.7" y="866.7" width="66.9" height="26.4" fill="#fff" stroke="#231f20" stroke-width="5" stroke-linejoin="round"/>
<text x="1470.8" y="887.7" font-size="24.6" text-anchor="start" font-weight="bold" class="b" >Control shRNA</text>
<rect x="1386.7" y="910.7" width="66.9" height="26.6" fill="#808285" stroke="#231f20" stroke-width="5" stroke-linejoin="round"/>
<text x="1470.8" y="931.9" font-size="24.6" text-anchor="start" font-weight="bold" class="b" >Pfn1 shRNA</text>
<rect x="1369.40" y="1319.60" width="40.20" height="115.00" fill="#fff" stroke="#231f20" stroke-width="5.2" stroke-linejoin="round"/>
<rect x="1429.70" y="1319.60" width="40.20" height="115.00" fill="#808285" stroke="#231f20" stroke-width="5.2" stroke-linejoin="round"/>
<rect x="1531.10" y="1015.80" width="40.20" height="418.80" fill="#fff" stroke="#231f20" stroke-width="5.2" stroke-linejoin="round"/>
<rect x="1590.90" y="1152.00" width="40.20" height="282.60" fill="#808285" stroke="#231f20" stroke-width="5.2" stroke-linejoin="round"/>
<rect x="1692.30" y="1017.10" width="40.20" height="417.50" fill="#fff" stroke="#231f20" stroke-width="5.2" stroke-linejoin="round"/>
<rect x="1751.90" y="1129.80" width="40.20" height="304.80" fill="#808285" stroke="#231f20" stroke-width="5.2" stroke-linejoin="round"/>
<rect x="1380.35" y="1314.2" width="18.30" height="10.10" rx="3.60" fill="#231f20"/>
<rect x="1440.65" y="1313" width="18.30" height="11.30" rx="3.60" fill="#231f20"/>
<path d="M1545.45 1008.3H1556.95M1545.45 1023.5000000000001H1556.95M1551.2 1008.3V1023.5000000000001" fill="none" stroke="#231f20" stroke-width="6.8" stroke-linecap="round"/>
<path d="M1605.25 1147.4H1616.75M1605.25 1156.6H1616.75M1611 1147.4V1156.6" fill="none" stroke="#231f20" stroke-width="6.8" stroke-linecap="round"/>
<rect x="1703.25" y="1013.3" width="18.30" height="8.20" rx="3.60" fill="#231f20"/>
<rect x="1762.85" y="1125" width="18.30" height="8.00" rx="3.60" fill="#231f20"/>
<path d="M1339.7 1434.6V854.3" stroke="#231f20" stroke-width="5.8" fill="none"/>
<path d="M1326.5 1434.6H1813.5" stroke="#231f20" stroke-width="5.2" fill="none"/>
<line x1="1326.5" y1="1319.5" x2="1339.7" y2="1319.5" stroke="#231f20" stroke-width="5.4"/>
<text transform="translate(1314.8 1328.0) scale(0.95 1)" font-size="26" text-anchor="end" font-weight="bold" class="b">1</text>
<line x1="1326.5" y1="1203.9" x2="1339.7" y2="1203.9" stroke="#231f20" stroke-width="5.4"/>
<text transform="translate(1314.8 1212.4) scale(0.95 1)" font-size="26" text-anchor="end" font-weight="bold" class="b">2</text>
<line x1="1326.5" y1="1088.2" x2="1339.7" y2="1088.2" stroke="#231f20" stroke-width="5.4"/>
<text transform="translate(1314.8 1096.7) scale(0.95 1)" font-size="26" text-anchor="end" font-weight="bold" class="b">3</text>
<line x1="1326.5" y1="972.6" x2="1339.7" y2="972.6" stroke="#231f20" stroke-width="5.4"/>
<text transform="translate(1314.8 981.1) scale(0.95 1)" font-size="26" text-anchor="end" font-weight="bold" class="b">4</text>
<line x1="1326.5" y1="857" x2="1339.7" y2="857" stroke="#231f20" stroke-width="5.4"/>
<text transform="translate(1314.8 865.5) scale(0.95 1)" font-size="26" text-anchor="end" font-weight="bold" class="b">5</text>
<line x1="1419.3" y1="1434.6" x2="1419.3" y2="1442.6" stroke="#231f20" stroke-width="5.8"/>
<line x1="1580.3" y1="1434.6" x2="1580.3" y2="1442.6" stroke="#231f20" stroke-width="5.8"/>
<line x1="1741.7" y1="1434.6" x2="1741.7" y2="1442.6" stroke="#231f20" stroke-width="5.8"/>
<line x1="1535.5" y1="995" x2="1604.4" y2="995" stroke="#231f20" stroke-width="2.3"/>
<text x="1563.5" y="987.3" font-size="28" text-anchor="middle" font-weight="normal" stroke="#231f20" stroke-width="0.3">***</text>
<line x1="1705.8" y1="998.7" x2="1775" y2="998.7" stroke="#231f20" stroke-width="2.3"/>
<text x="1745" y="990.0" font-size="28" text-anchor="middle" font-weight="normal" stroke="#231f20" stroke-width="0.3">****</text>
<text transform="translate(1275.6 1143) rotate(-90)" font-size="25" text-anchor="middle" font-weight="bold" class="b">Caspase 3 activity (fold)</text>
<text x="1419.5" y="1472.8" font-size="24.9" text-anchor="middle" font-weight="bold" class="b" >Untreated</text>
<text x="1581" y="1472.8" font-size="24.9" text-anchor="middle" font-weight="bold" class="b" >Doxorubicin</text>
<text x="1581" y="1503.8" font-size="24.9" text-anchor="middle" font-weight="bold" class="b" >(500 nM)</text>
<text x="1742.5" y="1472.8" font-size="24.9" text-anchor="middle" font-weight="bold" class="b" >Vinblastine</text>
<text x="1742.5" y="1503.8" font-size="24.9" text-anchor="middle" font-weight="bold" class="b" >(250 nM)</text>
</g>
</svg></body></html>
